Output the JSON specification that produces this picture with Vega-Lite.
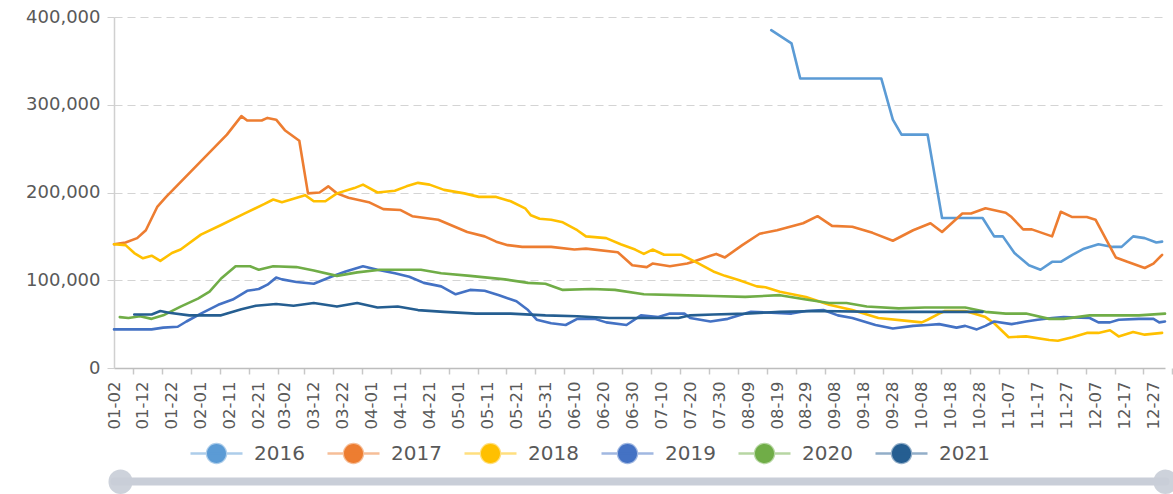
{
  "$schema": "https://vega.github.io/schema/vega-lite/v6.json",
  "autosize": {"type": "none"},
  "padding": {"left": 114, "top": 17, "right": 8, "bottom": 126},
  "width": 1051,
  "height": 351,
  "config": {
    "font": "DejaVu Sans",
    "view": {"stroke": null}
  },
  "resolve": {"axis": {"x": "independent"}},
  "layer": [
    {
      "data": {
        "format": {"parse": {"d": "date:'%m-%d'"}},
        "values": [
          {"s":"2016","d":"08-17","v":385000},{"s":"2016","d":"08-24","v":370000},{"s":"2016","d":"08-27","v":330000},{"s":"2016","d":"09-24","v":330000},{"s":"2016","d":"09-28","v":283000},{"s":"2016","d":"10-01","v":266000},{"s":"2016","d":"10-10","v":266000},{"s":"2016","d":"10-15","v":171000},{"s":"2016","d":"10-29","v":171000},{"s":"2016","d":"11-02","v":150000},{"s":"2016","d":"11-05","v":150000},{"s":"2016","d":"11-09","v":131000},{"s":"2016","d":"11-14","v":117000},{"s":"2016","d":"11-18","v":112000},{"s":"2016","d":"11-22","v":121000},{"s":"2016","d":"11-25","v":121000},{"s":"2016","d":"11-29","v":129000},{"s":"2016","d":"12-03","v":136000},{"s":"2016","d":"12-08","v":141000},{"s":"2016","d":"12-13","v":138000},{"s":"2016","d":"12-16","v":138000},{"s":"2016","d":"12-20","v":150000},{"s":"2016","d":"12-24","v":148000},{"s":"2016","d":"12-28","v":143000},{"s":"2016","d":"12-30","v":144000},

          {"s":"2017","d":"01-02","v":141000},{"s":"2017","d":"01-06","v":143000},{"s":"2017","d":"01-10","v":148000},{"s":"2017","d":"01-13","v":157000},{"s":"2017","d":"01-17","v":184000},{"s":"2017","d":"01-20","v":195000},{"s":"2017","d":"02-10","v":266000},{"s":"2017","d":"02-15","v":287000},{"s":"2017","d":"02-17","v":282000},{"s":"2017","d":"02-22","v":282000},{"s":"2017","d":"02-24","v":285000},{"s":"2017","d":"02-27","v":283000},{"s":"2017","d":"03-02","v":271000},{"s":"2017","d":"03-07","v":259000},{"s":"2017","d":"03-10","v":199000},{"s":"2017","d":"03-14","v":200000},{"s":"2017","d":"03-17","v":207000},{"s":"2017","d":"03-20","v":199000},{"s":"2017","d":"03-24","v":194000},{"s":"2017","d":"03-31","v":189000},{"s":"2017","d":"04-05","v":181000},{"s":"2017","d":"04-11","v":180000},{"s":"2017","d":"04-15","v":173000},{"s":"2017","d":"04-24","v":169000},{"s":"2017","d":"05-04","v":155000},{"s":"2017","d":"05-10","v":150000},{"s":"2017","d":"05-14","v":144000},{"s":"2017","d":"05-18","v":140000},{"s":"2017","d":"05-23","v":138000},{"s":"2017","d":"06-02","v":138000},{"s":"2017","d":"06-10","v":135000},{"s":"2017","d":"06-14","v":136000},{"s":"2017","d":"06-25","v":132000},{"s":"2017","d":"06-28","v":123000},{"s":"2017","d":"06-30","v":117000},{"s":"2017","d":"07-05","v":115000},{"s":"2017","d":"07-07","v":119000},{"s":"2017","d":"07-13","v":116000},{"s":"2017","d":"07-19","v":119000},{"s":"2017","d":"07-21","v":121000},{"s":"2017","d":"07-27","v":128000},{"s":"2017","d":"07-29","v":130000},{"s":"2017","d":"08-01","v":126000},{"s":"2017","d":"08-07","v":140000},{"s":"2017","d":"08-13","v":153000},{"s":"2017","d":"08-19","v":157000},{"s":"2017","d":"08-28","v":165000},{"s":"2017","d":"09-02","v":173000},{"s":"2017","d":"09-07","v":162000},{"s":"2017","d":"09-14","v":161000},{"s":"2017","d":"09-21","v":154000},{"s":"2017","d":"09-28","v":145000},{"s":"2017","d":"10-05","v":157000},{"s":"2017","d":"10-11","v":165000},{"s":"2017","d":"10-15","v":155000},{"s":"2017","d":"10-22","v":176000},{"s":"2017","d":"10-25","v":176000},{"s":"2017","d":"10-30","v":182000},{"s":"2017","d":"11-06","v":177000},{"s":"2017","d":"11-08","v":172000},{"s":"2017","d":"11-12","v":158000},{"s":"2017","d":"11-15","v":158000},{"s":"2017","d":"11-22","v":150000},{"s":"2017","d":"11-25","v":178000},{"s":"2017","d":"11-29","v":172000},{"s":"2017","d":"12-04","v":172000},{"s":"2017","d":"12-07","v":169000},{"s":"2017","d":"12-14","v":126000},{"s":"2017","d":"12-18","v":121000},{"s":"2017","d":"12-24","v":114000},{"s":"2017","d":"12-27","v":119000},{"s":"2017","d":"12-30","v":129000},

          {"s":"2018","d":"01-02","v":141000},{"s":"2018","d":"01-06","v":140000},{"s":"2018","d":"01-09","v":131000},{"s":"2018","d":"01-12","v":125000},{"s":"2018","d":"01-15","v":128000},{"s":"2018","d":"01-18","v":122000},{"s":"2018","d":"01-22","v":131000},{"s":"2018","d":"01-25","v":135000},{"s":"2018","d":"02-01","v":152000},{"s":"2018","d":"02-08","v":163000},{"s":"2018","d":"02-16","v":176000},{"s":"2018","d":"02-23","v":187000},{"s":"2018","d":"02-26","v":192000},{"s":"2018","d":"03-01","v":189000},{"s":"2018","d":"03-05","v":193000},{"s":"2018","d":"03-09","v":197000},{"s":"2018","d":"03-12","v":190000},{"s":"2018","d":"03-16","v":190000},{"s":"2018","d":"03-20","v":199000},{"s":"2018","d":"03-26","v":205000},{"s":"2018","d":"03-29","v":209000},{"s":"2018","d":"04-03","v":200000},{"s":"2018","d":"04-09","v":202000},{"s":"2018","d":"04-13","v":207000},{"s":"2018","d":"04-17","v":211000},{"s":"2018","d":"04-21","v":209000},{"s":"2018","d":"04-26","v":203000},{"s":"2018","d":"05-03","v":199000},{"s":"2018","d":"05-08","v":195000},{"s":"2018","d":"05-14","v":195000},{"s":"2018","d":"05-19","v":190000},{"s":"2018","d":"05-24","v":182000},{"s":"2018","d":"05-26","v":174000},{"s":"2018","d":"05-29","v":170000},{"s":"2018","d":"06-02","v":169000},{"s":"2018","d":"06-06","v":166000},{"s":"2018","d":"06-11","v":157000},{"s":"2018","d":"06-14","v":150000},{"s":"2018","d":"06-21","v":148000},{"s":"2018","d":"06-26","v":141000},{"s":"2018","d":"07-01","v":135000},{"s":"2018","d":"07-04","v":130000},{"s":"2018","d":"07-07","v":135000},{"s":"2018","d":"07-11","v":129000},{"s":"2018","d":"07-17","v":129000},{"s":"2018","d":"07-23","v":119000},{"s":"2018","d":"07-28","v":110000},{"s":"2018","d":"08-01","v":105000},{"s":"2018","d":"08-06","v":100000},{"s":"2018","d":"08-12","v":93000},{"s":"2018","d":"08-15","v":92000},{"s":"2018","d":"08-20","v":87000},{"s":"2018","d":"08-29","v":81000},{"s":"2018","d":"09-06","v":72000},{"s":"2018","d":"09-14","v":66000},{"s":"2018","d":"09-23","v":57000},{"s":"2018","d":"10-02","v":54000},{"s":"2018","d":"10-08","v":52000},{"s":"2018","d":"10-10","v":55000},{"s":"2018","d":"10-14","v":62000},{"s":"2018","d":"10-16","v":65000},{"s":"2018","d":"10-23","v":65000},{"s":"2018","d":"10-30","v":58000},{"s":"2018","d":"11-02","v":51000},{"s":"2018","d":"11-07","v":35000},{"s":"2018","d":"11-13","v":36000},{"s":"2018","d":"11-21","v":32000},{"s":"2018","d":"11-24","v":31000},{"s":"2018","d":"11-29","v":35000},{"s":"2018","d":"12-04","v":40000},{"s":"2018","d":"12-08","v":40000},{"s":"2018","d":"12-12","v":43000},{"s":"2018","d":"12-15","v":36000},{"s":"2018","d":"12-20","v":41000},{"s":"2018","d":"12-24","v":38000},{"s":"2018","d":"12-30","v":40000},

          {"s":"2019","d":"01-02","v":44000},{"s":"2019","d":"01-11","v":44000},{"s":"2019","d":"01-15","v":44000},{"s":"2019","d":"01-19","v":46000},{"s":"2019","d":"01-24","v":47000},{"s":"2019","d":"01-27","v":53000},{"s":"2019","d":"02-01","v":62000},{"s":"2019","d":"02-07","v":72000},{"s":"2019","d":"02-12","v":78000},{"s":"2019","d":"02-17","v":88000},{"s":"2019","d":"02-21","v":90000},{"s":"2019","d":"02-24","v":95000},{"s":"2019","d":"02-27","v":103000},{"s":"2019","d":"03-01","v":101000},{"s":"2019","d":"03-06","v":98000},{"s":"2019","d":"03-12","v":96000},{"s":"2019","d":"03-18","v":104000},{"s":"2019","d":"03-23","v":110000},{"s":"2019","d":"03-29","v":116000},{"s":"2019","d":"04-03","v":112000},{"s":"2019","d":"04-09","v":108000},{"s":"2019","d":"04-14","v":104000},{"s":"2019","d":"04-19","v":97000},{"s":"2019","d":"04-25","v":93000},{"s":"2019","d":"04-30","v":84000},{"s":"2019","d":"05-05","v":89000},{"s":"2019","d":"05-10","v":88000},{"s":"2019","d":"05-15","v":83000},{"s":"2019","d":"05-21","v":76000},{"s":"2019","d":"05-25","v":66000},{"s":"2019","d":"05-28","v":55000},{"s":"2019","d":"06-02","v":51000},{"s":"2019","d":"06-07","v":49000},{"s":"2019","d":"06-11","v":56000},{"s":"2019","d":"06-17","v":56000},{"s":"2019","d":"06-21","v":52000},{"s":"2019","d":"06-28","v":49000},{"s":"2019","d":"07-03","v":60000},{"s":"2019","d":"07-09","v":58000},{"s":"2019","d":"07-13","v":62000},{"s":"2019","d":"07-18","v":62000},{"s":"2019","d":"07-20","v":57000},{"s":"2019","d":"07-27","v":53000},{"s":"2019","d":"08-02","v":56000},{"s":"2019","d":"08-08","v":62000},{"s":"2019","d":"08-10","v":64000},{"s":"2019","d":"08-17","v":63000},{"s":"2019","d":"08-24","v":62000},{"s":"2019","d":"08-29","v":65000},{"s":"2019","d":"09-04","v":66000},{"s":"2019","d":"09-09","v":60000},{"s":"2019","d":"09-14","v":57000},{"s":"2019","d":"09-18","v":53000},{"s":"2019","d":"09-22","v":49000},{"s":"2019","d":"09-28","v":45000},{"s":"2019","d":"10-05","v":48000},{"s":"2019","d":"10-10","v":49000},{"s":"2019","d":"10-14","v":50000},{"s":"2019","d":"10-20","v":46000},{"s":"2019","d":"10-23","v":48000},{"s":"2019","d":"10-27","v":44000},{"s":"2019","d":"10-30","v":48000},{"s":"2019","d":"11-02","v":53000},{"s":"2019","d":"11-08","v":50000},{"s":"2019","d":"11-13","v":53000},{"s":"2019","d":"11-17","v":55000},{"s":"2019","d":"11-22","v":57000},{"s":"2019","d":"11-26","v":58000},{"s":"2019","d":"12-05","v":57000},{"s":"2019","d":"12-08","v":52000},{"s":"2019","d":"12-12","v":52000},{"s":"2019","d":"12-15","v":55000},{"s":"2019","d":"12-22","v":56000},{"s":"2019","d":"12-27","v":56000},{"s":"2019","d":"12-29","v":52000},{"s":"2019","d":"12-31","v":53000},

          {"s":"2020","d":"01-04","v":58000},{"s":"2020","d":"01-07","v":57000},{"s":"2020","d":"01-11","v":59000},{"s":"2020","d":"01-15","v":56000},{"s":"2020","d":"01-19","v":60000},{"s":"2020","d":"01-25","v":70000},{"s":"2020","d":"01-31","v":79000},{"s":"2020","d":"02-04","v":87000},{"s":"2020","d":"02-08","v":102000},{"s":"2020","d":"02-13","v":116000},{"s":"2020","d":"02-18","v":116000},{"s":"2020","d":"02-21","v":112000},{"s":"2020","d":"02-26","v":116000},{"s":"2020","d":"03-06","v":115000},{"s":"2020","d":"03-12","v":111000},{"s":"2020","d":"03-20","v":105000},{"s":"2020","d":"03-27","v":109000},{"s":"2020","d":"04-04","v":112000},{"s":"2020","d":"04-18","v":112000},{"s":"2020","d":"04-25","v":108000},{"s":"2020","d":"05-05","v":105000},{"s":"2020","d":"05-17","v":101000},{"s":"2020","d":"05-25","v":97000},{"s":"2020","d":"05-31","v":96000},{"s":"2020","d":"06-06","v":89000},{"s":"2020","d":"06-16","v":90000},{"s":"2020","d":"06-24","v":89000},{"s":"2020","d":"07-04","v":84000},{"s":"2020","d":"07-16","v":83000},{"s":"2020","d":"07-28","v":82000},{"s":"2020","d":"08-08","v":81000},{"s":"2020","d":"08-20","v":83000},{"s":"2020","d":"08-29","v":78000},{"s":"2020","d":"09-06","v":74000},{"s":"2020","d":"09-12","v":74000},{"s":"2020","d":"09-19","v":70000},{"s":"2020","d":"09-30","v":68000},{"s":"2020","d":"10-09","v":69000},{"s":"2020","d":"10-23","v":69000},{"s":"2020","d":"10-30","v":64000},{"s":"2020","d":"11-06","v":62000},{"s":"2020","d":"11-13","v":62000},{"s":"2020","d":"11-21","v":56000},{"s":"2020","d":"11-26","v":56000},{"s":"2020","d":"12-05","v":60000},{"s":"2020","d":"12-14","v":60000},{"s":"2020","d":"12-22","v":60000},{"s":"2020","d":"12-31","v":62000},

          {"s":"2021","d":"01-09","v":61000},{"s":"2021","d":"01-15","v":61000},{"s":"2021","d":"01-18","v":65000},{"s":"2021","d":"01-21","v":63000},{"s":"2021","d":"01-28","v":60000},{"s":"2021","d":"02-01","v":60000},{"s":"2021","d":"02-08","v":60000},{"s":"2021","d":"02-15","v":67000},{"s":"2021","d":"02-20","v":71000},{"s":"2021","d":"02-27","v":73000},{"s":"2021","d":"03-05","v":71000},{"s":"2021","d":"03-12","v":74000},{"s":"2021","d":"03-16","v":72000},{"s":"2021","d":"03-20","v":70000},{"s":"2021","d":"03-27","v":74000},{"s":"2021","d":"04-03","v":69000},{"s":"2021","d":"04-10","v":70000},{"s":"2021","d":"04-17","v":66000},{"s":"2021","d":"04-26","v":64000},{"s":"2021","d":"05-07","v":62000},{"s":"2021","d":"05-19","v":62000},{"s":"2021","d":"05-31","v":60000},{"s":"2021","d":"06-11","v":59000},{"s":"2021","d":"06-22","v":57000},{"s":"2021","d":"07-04","v":57000},{"s":"2021","d":"07-16","v":57000},{"s":"2021","d":"07-20","v":60000},{"s":"2021","d":"07-28","v":61000},{"s":"2021","d":"08-08","v":62000},{"s":"2021","d":"08-20","v":64000},{"s":"2021","d":"09-02","v":65000},{"s":"2021","d":"09-23","v":64000},{"s":"2021","d":"10-14","v":64000},{"s":"2021","d":"10-29","v":64000}
        ]
      },
      "mark": {"type": "line", "strokeWidth": 2.6, "strokeJoin": "round", "strokeCap": "round"},
      "encoding": {
        "x": {
          "field": "d",
          "type": "temporal",
          "scale": {"domain": [{"year": 1900, "month": 1, "date": 2}, {"year": 1900, "month": 12, "date": 31}]},
          "axis": {
            "orient": "bottom",
            "title": null,
            "format": "%m-%d",
            "values": [
              {"year":1900,"month":1,"date":2},{"year":1900,"month":1,"date":12},{"year":1900,"month":1,"date":22},
              {"year":1900,"month":2,"date":1},{"year":1900,"month":2,"date":11},{"year":1900,"month":2,"date":21},
              {"year":1900,"month":3,"date":2},{"year":1900,"month":3,"date":12},{"year":1900,"month":3,"date":22},
              {"year":1900,"month":4,"date":1},{"year":1900,"month":4,"date":11},{"year":1900,"month":4,"date":21},
              {"year":1900,"month":5,"date":1},{"year":1900,"month":5,"date":11},{"year":1900,"month":5,"date":21},{"year":1900,"month":5,"date":31},
              {"year":1900,"month":6,"date":10},{"year":1900,"month":6,"date":20},{"year":1900,"month":6,"date":30},
              {"year":1900,"month":7,"date":10},{"year":1900,"month":7,"date":20},{"year":1900,"month":7,"date":30},
              {"year":1900,"month":8,"date":9},{"year":1900,"month":8,"date":19},{"year":1900,"month":8,"date":29},
              {"year":1900,"month":9,"date":8},{"year":1900,"month":9,"date":18},{"year":1900,"month":9,"date":28},
              {"year":1900,"month":10,"date":8},{"year":1900,"month":10,"date":18},{"year":1900,"month":10,"date":28},
              {"year":1900,"month":11,"date":7},{"year":1900,"month":11,"date":17},{"year":1900,"month":11,"date":27},
              {"year":1900,"month":12,"date":7},{"year":1900,"month":12,"date":17},{"year":1900,"month":12,"date":27}
            ],
            "labelAngle": 270,
            "labelAlign": "right",
            "labelBaseline": "middle",
            "labelFont": "DejaVu Sans",
            "labelFontSize": 16.5,
            "labelColor": "#595959",
            "labelPadding": 7,
            "labelOverlap": false,
            "labelFlush": false,
            "labelBound": false,
            "tickSize": 6,
            "tickWidth": 1.5,
            "tickColor": "#c8c8c8",
            "tickOffset": 19,
            "labelOffset": -19,
            "domainColor": "#bdbdbd",
            "domainWidth": 1.5,
            "grid": false
          }
        },
        "y": {
          "field": "v",
          "type": "quantitative",
          "scale": {"domain": [0, 400000], "nice": false},
          "axis": {
            "title": null,
            "values": [0, 100000, 200000, 300000, 400000],
            "format": ",d",
            "labelFont": "DejaVu Sans",
            "labelFontSize": 18,
            "labelColor": "#595959",
            "labelPadding": 7,
            "tickSize": 7,
            "tickColor": "#d0d0d0",
            "domain": true,
            "domainColor": "#d0d0d0",
            "domainWidth": 1.5,
            "grid": true,
            "gridColor": "#d4d4d4",
            "gridDash": [8, 5],
            "gridWidth": 1.2
          }
        },
        "color": {
          "field": "s",
          "type": "nominal",
          "scale": {
            "domain": ["2016", "2017", "2018", "2019", "2020", "2021"],
            "range": ["#5B9BD5", "#ED7D31", "#FFC000", "#4472C4", "#70AD47", "#255E91"]
          },
          "legend": {
            "title": null,
            "orient": "none",
            "direction": "horizontal",
            "legendX": 91,
            "legendY": 425,
            "padding": 0,
            "symbolType": "M-2.6,0L2.6,0M0.95,0A0.95,0.95,0,1,1,-0.95,0A0.95,0.95,0,1,1,0.95,0Z",
            "symbolSize": 400,
            "symbolStrokeWidth": 2.5,
            "labelFont": "DejaVu Sans",
            "labelFontSize": 20,
            "labelColor": "#595959",
            "labelOffset": 26,
            "columnPadding": 17,
            "encode": {
              "symbols": {
                "update": {
                  "fill": {"scale": "color", "field": "value"},
                  "stroke": {"scale": "color", "field": "value"},
                  "strokeOpacity": {"value": 0.5},
                  "opacity": {"value": 1}
                }
              }
            }
          }
        }
      }
    },
    {
      "data": {
        "format": {"parse": {"d": "date:'%m-%d'"}},
        "values": [{"d": "01-04"}, {"d": "12-31"}]
      },
      "mark": {"type": "point", "opacity": 0},
      "encoding": {
        "x": {
          "field": "d",
          "type": "temporal",
          "scale": {"domain": [{"year": 1900, "month": 1, "date": 2}, {"year": 1900, "month": 12, "date": 31}]},
          "axis": {
            "orient": "bottom",
            "offset": 113,
            "title": null,
            "labels": false,
            "grid": false,
            "values": [{"year":1900,"month":1,"date":4},{"year":1900,"month":12,"date":31}],
            "domain": true,
            "domainColor": "#c9ced8",
            "domainWidth": 8,
            "domainCap": "round",
            "ticks": true,
            "tickSize": 0.5,
            "tickWidth": 24,
            "tickCap": "round",
            "tickColor": "#cdd2db"
          }
        }
      }
    }
  ]
}
